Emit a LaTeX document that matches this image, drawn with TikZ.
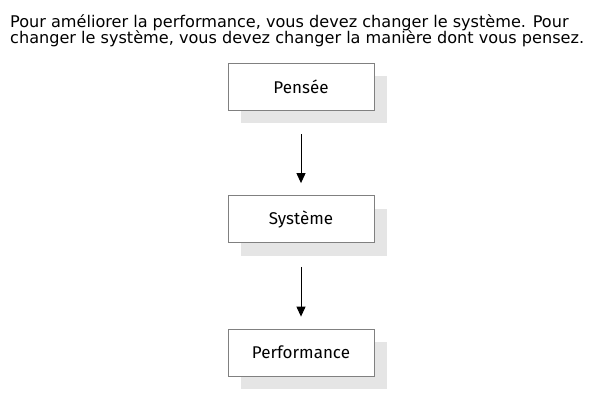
\documentclass[tikz,border=0pt]{standalone}
\usepackage{fontspec}
\setmainfont{DejaVu Sans}
\newfontfamily\boxfont{Fira Sans}
\usetikzlibrary{arrows.meta,shadows}
\begin{document}
\begin{tikzpicture}[x=1pt,y=-1pt,
  stepbox/.style={draw=black!50, line width=0.8pt, fill=white, minimum width=146pt, minimum height=47pt,
    font=\boxfont\fontsize{17}{20}\selectfont, inner sep=0pt,
    drop shadow={shadow xshift=13pt, shadow yshift=-13pt, fill=black!10, opacity=1}},
  head/.style={anchor=base west, inner sep=0pt, font=\fontsize{16.1}{19}\selectfont},
  flow/.style={draw=black, line width=1pt, -{Triangle[width=9pt,length=10pt]}, shorten <=24pt, shorten >=12pt}]
\useasboundingbox (0,0) rectangle (600,400);
\node[head] (h1) at (10,27) {Pour améliorer la performance, vous devez changer le système. Pour};
\node[head] (h2) at (10,43) {changer le système, vous devez changer la manière dont vous pensez.};
\node[stepbox] (p) at (301,86.5) {Pensée};
\node[stepbox] (s) at (301,219) {Système};
\node[stepbox] (f) at (301,352.5) {Performance};
\draw[flow] (p.south) -- (s.north);
\draw[flow] (s.south) -- (f.north);
\end{tikzpicture}
\end{document}
